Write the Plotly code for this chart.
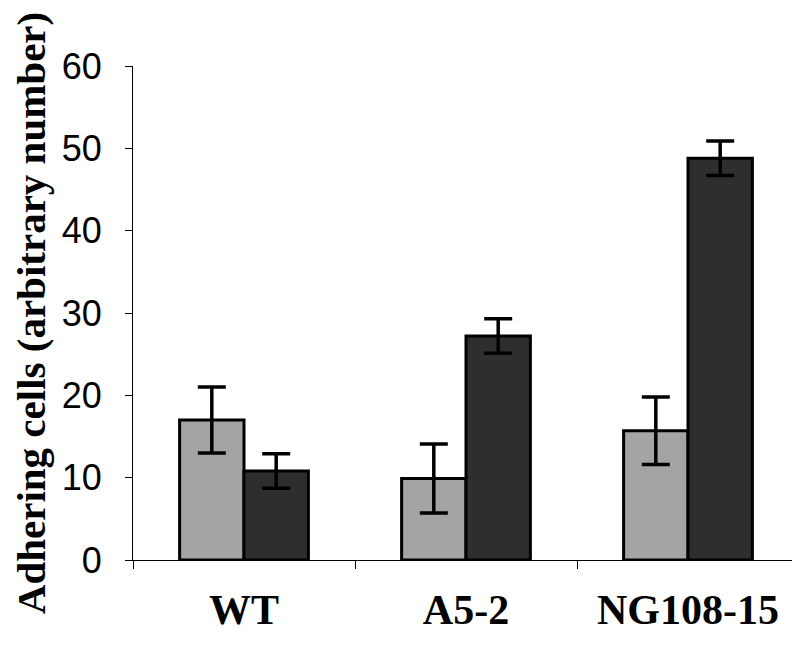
import plotly.graph_objects as go

categories = ["WT", "A5-2", "NG108-15"]
light_values = [17.0, 9.9, 15.7]
light_errors = [4.0, 4.2, 4.1]
dark_values = [10.8, 27.2, 48.8]
dark_errors = [2.1, 2.1, 2.1]
y_ticks = [0, 10, 20, 30, 40, 50, 60]

fig = go.Figure()
fig.add_trace(go.Bar(
    x=categories, y=light_values,
    marker=dict(color="#a4a4a4", line=dict(color="#000000", width=3)),
    error_y=dict(type="data", array=light_errors, color="#000000", thickness=3.5, width=14),
    showlegend=False,
))
fig.add_trace(go.Bar(
    x=categories, y=dark_values,
    marker=dict(color="#2e2e2e", line=dict(color="#000000", width=3)),
    error_y=dict(type="data", array=dark_errors, color="#000000", thickness=3.5, width=14),
    showlegend=False,
))

fig.update_layout(
    width=800, height=647,
    margin=dict(l=125, r=9, t=58, b=95),
    paper_bgcolor="white", plot_bgcolor="white",
    barmode="group", bargap=0.42, bargroupgap=0,
    xaxis=dict(
        tickson="boundaries", ticks="outside", ticklen=8, tickwidth=1, tickcolor="#000",
        showline=True, linecolor="#000", linewidth=1.2,
        tickfont=dict(family="Liberation Serif", size=42, color="#000"),
        tickvals=categories, ticktext=[f"<b>{c}</b>" for c in categories],
        ticklabelstandoff=12,
        showgrid=False,
    ),
    yaxis=dict(
        range=[0, 60], tickvals=y_ticks, ticks="outside", ticklen=7, tickwidth=1, tickcolor="#000",
        showline=True, linecolor="#000", linewidth=1.2, showgrid=False, zeroline=False,
        tickfont=dict(family="Liberation Sans", size=36, color="#000"),
        ticklabelstandoff=16,
        title=dict(text="<b>Adhering cells (arbitrary number)</b>", standoff=5,
                   font=dict(family="Liberation Serif", size=41, color="#000")),
    ),
)
fig.write_html("out.html")
